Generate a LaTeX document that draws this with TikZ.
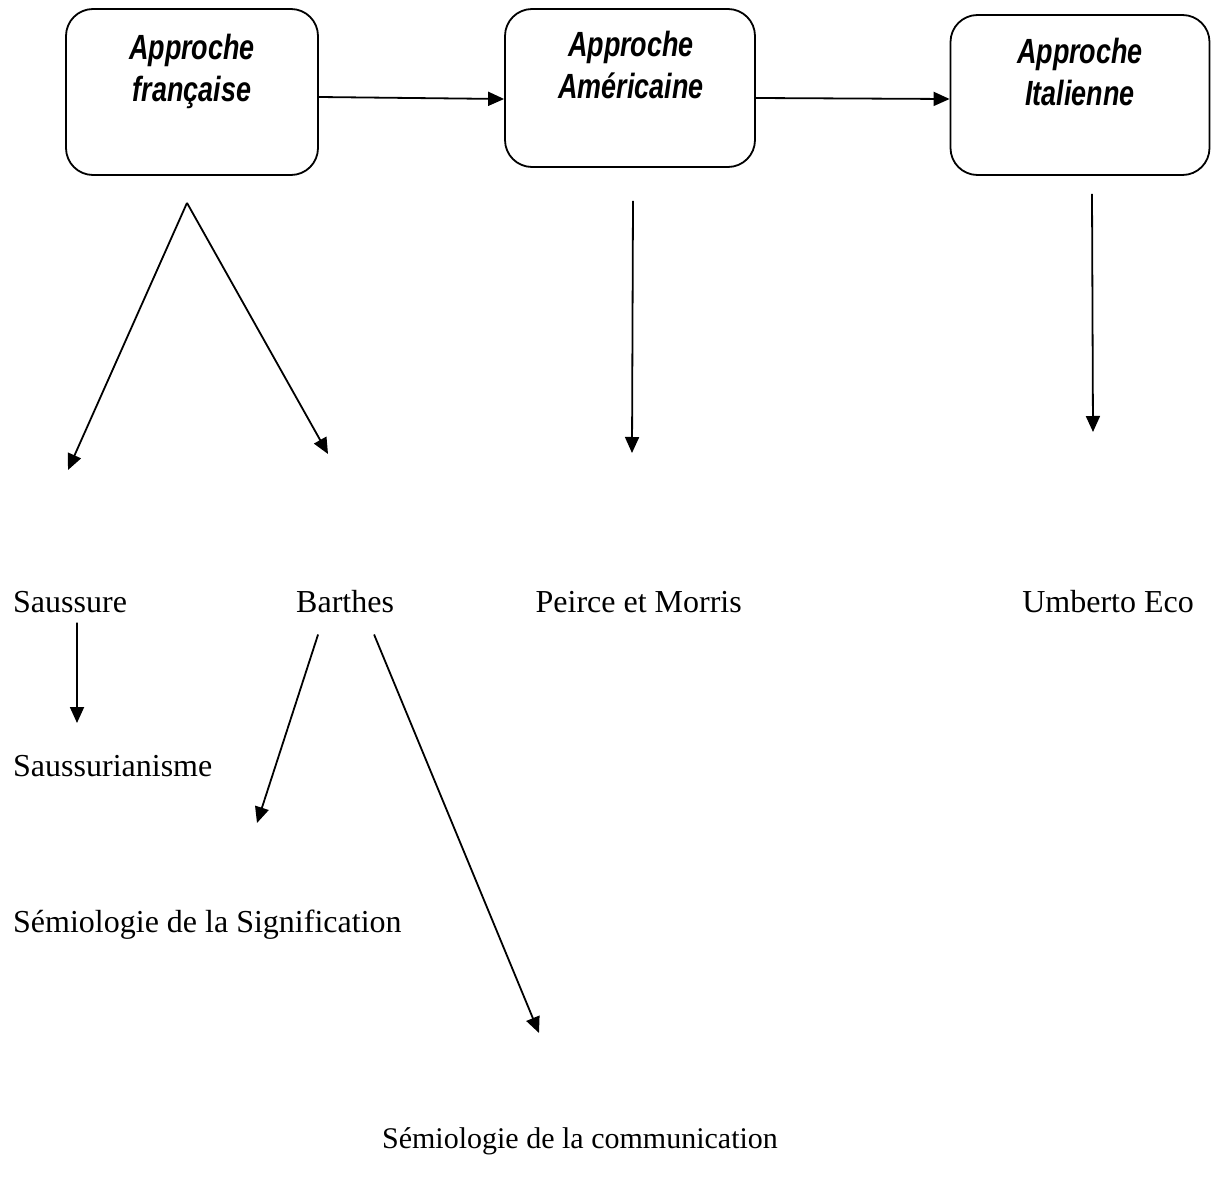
\documentclass[tikz,border=0pt]{standalone}
\usepackage{fontspec}
\setmainfont{Liberation Serif}
\newfontfamily\boxfont[FakeStretch=0.77]{Liberation Sans}
\usetikzlibrary{arrows.meta}
\begin{document}
\begin{tikzpicture}[x=1pt,y=-1pt,
  box/.style={draw,line width=1.8pt,rounded corners=27pt,inner sep=0pt},
  boxtext/.style={anchor=base,inner sep=0pt,font=\boxfont\bfseries\itshape\fontsize{35}{43}\selectfont},
  lbl/.style={inner sep=0pt,font=\fontsize{32}{38}\selectfont},
  arr/.style={line width=1.8pt,-{Triangle[length=16pt,width=14pt]}}]
\useasboundingbox (0,0) rectangle (1211,1191);
% boxes
\node[box,minimum width=252pt,minimum height=166pt] (b1) at (192,92) {};
\node[box,minimum width=250pt,minimum height=158pt] (b2) at (630,88) {};
\node[box,minimum width=259pt,minimum height=160pt] (b3) at (1080,95) {};
\node[boxtext] (t1) at (192,59) {\begin{tabular}[t]{@{}c@{}}Approche\\française\end{tabular}};
\node[boxtext] (t2) at (631,56) {\begin{tabular}[t]{@{}c@{}}Approche\\Américaine\end{tabular}};
\node[boxtext] (t3) at (1080,63) {\begin{tabular}[t]{@{}c@{}}Approche\\Italienne\end{tabular}};
% connectors between boxes
\draw[arr] ([yshift=-5pt]b1.east) -- ([yshift=-11pt]b2.west);
\draw[arr] ([yshift=-10pt]b2.east) -- ([yshift=-4pt]b3.west);
% labels
\node[lbl,anchor=base west] (saussure) at (13,612) {Saussure};
\node[lbl,anchor=base west] (barthes) at (296,612) {Barthes};
\node[lbl,anchor=base east] (peirce) at (742,612) {Peirce et Morris};
\node[lbl,anchor=base east] (eco) at (1194,612) {Umberto Eco};
\node[lbl,anchor=base west] (saussurianisme) at (13,776) {Saussurianisme};
\node[lbl,anchor=base west] (signif) at (13,932) {Sémiologie de la Signification};
\node[lbl,anchor=base,font=\fontsize{30}{36}\selectfont] (comm) at (580,1148) {Sémiologie de la communication};
% free arrow ends
\coordinate (apex) at ([xshift=-5pt,yshift=-27pt]b1.south);
\coordinate (tS) at (68,470);
\coordinate (tB) at (328,454);
\coordinate (tA) at (632,453);
\coordinate (tI) at (1093,432);
\coordinate (tSm) at (77,723);
\coordinate (tSig) at (257,823);
\coordinate (tCom) at (539,1033);
% vertical / diagonal arrows
\draw[arr] (apex) -- (tS);
\draw[arr] (apex) -- (tB);
\draw[arr] ([xshift=3pt,yshift=-33pt]b2.south) -- (tA);
\draw[arr] ([xshift=12pt,yshift=-18pt]b3.south) -- (tI);
\draw[arr] ([xshift=7pt,yshift=-10pt]saussure.south) -- (tSm);
\draw[arr] ([xshift=-27pt,yshift=-22pt]barthes.south) -- (tSig);
\draw[arr] ([xshift=29pt,yshift=-22pt]barthes.south) -- (tCom);
\end{tikzpicture}
\end{document}
